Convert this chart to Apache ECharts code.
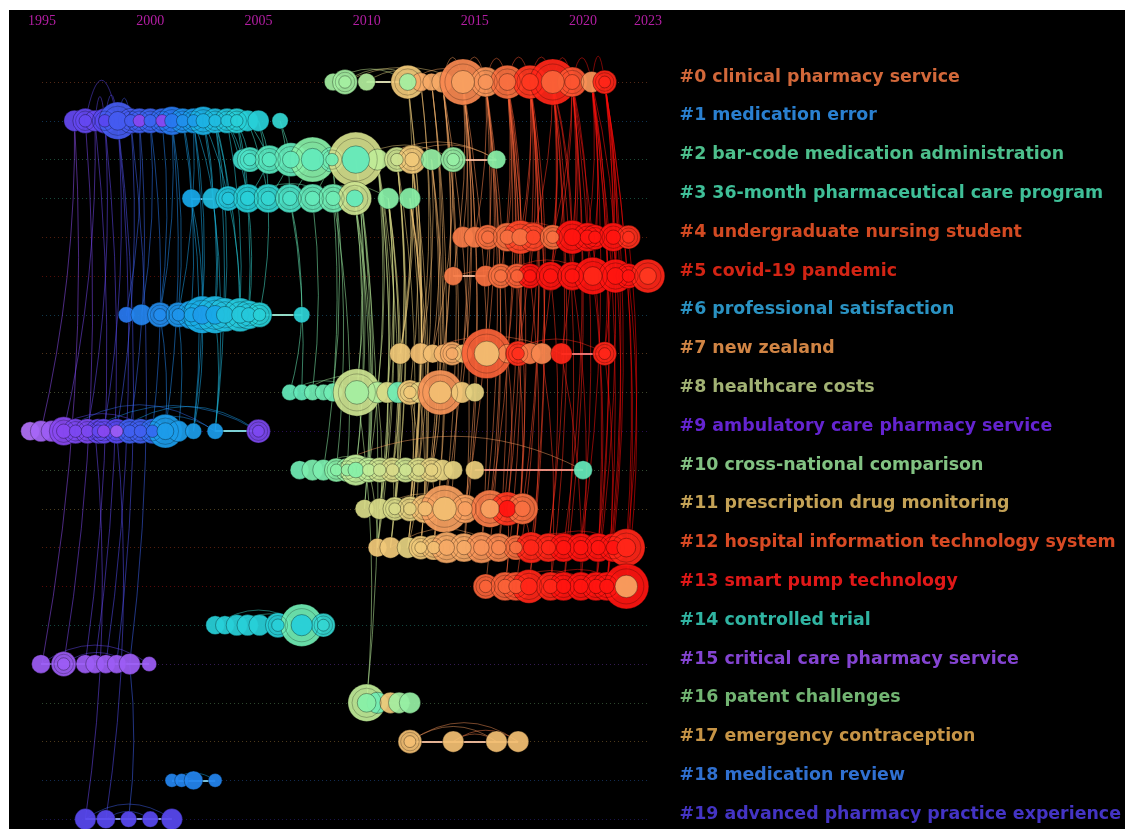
<!DOCTYPE html>
<html>
<head>
<meta charset="utf-8">
<script src="https://cdn.jsdelivr.net/npm/echarts@6/dist/echarts.min.js"></script>
<style>
html,body{margin:0;padding:0;background:#fff;}
#chart{position:absolute;left:9px;top:10px;width:1116px;height:819px;background:#000;}
</style>
</head>
<body>
<div id="chart"></div>
<script>
// year ticks shown on top
const tickYears = [1995, 2000, 2005, 2010, 2015, 2020, 2023];

const clusterNames = [
  'clinical pharmacy service', 'medication error', 'bar-code medication administration',
  '36-month pharmaceutical care program', 'undergraduate nursing student', 'covid-19 pandemic',
  'professional satisfaction', 'new zealand', 'healthcare costs', 'ambulatory care pharmacy service',
  'cross-national comparison', 'prescription drug monitoring', 'hospital information technology system',
  'smart pump technology', 'controlled trial', 'critical care pharmacy service', 'patent challenges',
  'emergency contraception', 'medication review', 'advanced pharmacy practice experience'
];
const clusterColors = [
  '#d2683a', '#2a80d0', '#4dbf8c', '#3fbf98', '#d24a22', '#d22414', '#2a92c2', '#d08444',
  '#a2b274', '#6424d0', '#82c282', '#c4a256', '#d84a24', '#e01818', '#30b4a2', '#8444d2',
  '#72b472', '#c69446', '#3070d0', '#4434c4'
];

// nodes per cluster: [year, size, colour year, core colour year]
const c0 = [[2008.45,14,2009],[2009,20,2009],[2010,14,2009.5],[2011.9,27,2012,2009],[2012.5,15,2013.5],[2013,14,2013.5],[2013.5,17,2013.5],[2014.45,37,2015,2014],[2015.5,24,2014.5],[2016.5,27,2016],[2017.55,27,2018],[2018.6,37,2019,2016.5],[2019.5,24,2017],[2020.4,17,2014.5],[2021,19,2019]];
const c1 = [[1996.5,17,1997.5],[1997,20,1997.5],[1997.45,17,1997.5,1996],[1997.9,20,1998],[1998.5,30,1998.8],[1999.1,20,1998.8],[1999.5,20,1999,1996],[2000,20,1999.2],[2000.55,20,1999.5,1996],[2001,23,2000],[2001.5,20,2001],[2002,20,2001.5],[2002.45,23,2002.5],[2003,20,2003],[2003.55,20,2003.5],[2004,20,2004],[2004.5,17,2004],[2005,17,2004],[2006,13,2004.5]];
const c2 = [[2004.3,17,2005],[2004.6,20,2005.5],[2005.5,23,2006],[2006.5,27,2006.5],[2007.5,36,2008,2006.5],[2008.4,20,2007],[2009.5,44,2010.8,2006.5],[2010.5,17,2010],[2011.4,20,2010.5],[2012.1,23,2012],[2013,17,2008.5],[2014,20,2008.5],[2016,15,2008]];
const c3 = [[2001.9,15,2002],[2002.9,17,2003],[2003.6,20,2003.5],[2004.5,23,2004],[2005.45,23,2004.5],[2006.45,23,2005.5],[2007.5,23,2006.5],[2008.45,23,2007],[2009.45,27,2010.5,2006.5],[2011,17,2008],[2012,17,2008]];
const c4 = [[2014.45,17,2015.5],[2015,17,2015.5],[2015.6,20,2016],[2016.5,23,2016],[2017.1,27,2017.5,2016],[2017.7,23,2017.5],[2018.6,20,2016],[2019.5,27,2020],[2020.2,23,2020],[2020.55,20,2020],[2021.4,23,2020],[2022.1,19,2018.5]];
const c5 = [[2014,15,2015.5],[2015.5,17,2016],[2016.2,20,2016],[2016.95,20,2016.5],[2017.55,20,2020],[2018.5,23,2020],[2019.5,23,2020],[2020.45,30,2020,2019],[2021.5,27,2020],[2022.1,20,2020],[2023,27,2019,2018]];
const c6 = [[1998.9,13,2000],[1999.6,17,2000.5],[2000.45,20,2000.8],[2001.3,20,2001.2],[2001.9,23,2001.8],[2002.4,30,2002.3,2001.5],[2003,30,2002.8,2002],[2003.45,27,2003.2],[2004.15,27,2003.6],[2004.55,23,2003.6],[2005.05,20,2004],[2007,13,2004.2]];
const c7 = [[2011.55,17,2012],[2012.5,17,2012.5],[2013.05,15,2012.5],[2013.55,15,2013],[2013.95,19,2013.5],[2014.45,15,2012.5],[2015.55,40,2016.5,2012.5],[2016.5,15,2015],[2017,20,2018.5],[2017.55,17,2015.5],[2018.1,17,2015],[2019,17,2019],[2021,19,2019]];
const c8 = [[2006.45,13,2006.5],[2007,13,2006.5],[2007.5,13,2007],[2008,13,2007],[2008.45,15,2007],[2009.55,38,2010.5,2009],[2010.5,17,2009.5],[2010.95,17,2011],[2011.45,17,2007],[2012,20,2012],[2012.45,17,2011.5],[2013.4,36,2014.5,2012.5],[2014.4,17,2012],[2015,15,2011.5]];
const c9 = [[1994.45,15,1994],[1994.95,17,1994.5],[1995.45,17,1995],[1996,23,1996],[1996.55,20,1996.5],[1997.1,20,1996.5],[1997.6,20,1997.5],[1997.85,20,1997.5,1996],[1998.45,20,1998,1995],[1999.05,20,1999],[1999.55,20,1999],[2000.1,20,1999.5],[2000.7,27,2001.5],[2001.3,17,2001.5],[2002,13,2001.5],[2003,13,2001.5],[2005,19,1996.5]];
const c10 = [[2006.9,15,2007],[2007.5,17,2007.5],[2008,17,2007.5],[2008.6,19,2008],[2009.1,19,2008.5],[2009.5,25,2010,2008],[2010.1,20,2010],[2010.6,20,2010.5],[2011.2,20,2011],[2011.8,20,2010.5],[2012.4,20,2011],[2013,20,2011.5],[2013.5,17,2011.5],[2014,15,2011.5],[2015,15,2011.8],[2020,15,2006.5]];
const c11 = [[2009.9,15,2011],[2010.6,17,2011],[2011.3,19,2011],[2012,20,2011.5],[2012.7,23,2012.5],[2013.6,38,2014,2012.5],[2014.55,23,2014],[2015.7,30,2015.5,2014],[2016.5,27,2018,2020],[2017.2,25,2016]];
const c12 = [[2010.5,15,2012],[2011.1,17,2012],[2011.9,17,2011.5],[2012.5,19,2012],[2013.1,20,2012.5],[2013.7,25,2013.5],[2014.5,23,2013.5],[2015.3,25,2014.5],[2016.1,23,2015],[2016.9,20,2016],[2017.6,25,2019],[2018.4,23,2019],[2019.1,23,2020],[2019.9,23,2020],[2020.7,23,2020],[2021.4,23,2020],[2022,30,2019]];
const c13 = [[2015.5,20,2016.5],[2016.4,23,2016.5],[2016.9,23,2017],[2017.5,27,2019],[2018.5,23,2019],[2019.1,23,2020],[2019.9,23,2020],[2020.6,23,2020],[2021.1,23,2020],[2022,36,2020,2014]];
const c14 = [[2003,15,2004],[2003.45,15,2004],[2004,17,2004],[2004.5,17,2004],[2005.05,17,2004],[2005.9,20,2004],[2007,34,2007,2004],[2008,19,2004.5]];
const c15 = [[1994.95,15,1995],[1996,20,1995],[1997,15,1995],[1997.45,15,1995],[1997.95,15,1995],[1998.45,15,1995],[1999.05,17,1995],[1999.95,12,1995]];
const c16 = [[2010,30,2010,2008],[2010.5,17,2007],[2011.1,17,2012],[2011.5,17,2009],[2012,17,2008.5]];
const c17 = [[2012,19,2012.5],[2014,17,2012.5],[2016,17,2012.5],[2017,17,2012.5]];
const c18 = [[2001,11,2000.5],[2001.45,11,2000.5],[2002,15,2000.5],[2003,11,2000.5]];
const c19 = [[1997,17,1998],[1997.95,15,1998],[1999,13,1998],[2000,13,1998],[2001,17,1998]];

// links between clusters: [yearA, clusterA, yearB, clusterB]
const crossLinks = [
  [1996.5,1,1995,15],[1997,1,1996,15],[1997.45,1,1997,15],[1997.9,1,1997.45,15],[1998.5,1,1997.95,15],[1998.5,1,1998.45,15],[1999.1,1,1999.05,15],
  [1996.5,1,1994.95,9],[1997.45,1,1996,9],[1997.9,1,1997.1,9],[1998.5,1,1997.85,9],[1999.1,1,1998.45,9],[1999.5,1,1999.05,9],
  [1997.45,9,1997,19],[1998.45,9,1997.95,19],[1999.05,15,1999,19],
  [1999.5,1,1998.9,6],[2000,1,1999.6,6],[2000.55,1,2000.45,6],[2001,1,2001.3,6],[2001.5,1,2001.9,6],[2002,1,2002.4,6],[2002.45,1,2003,6],[2003,1,2003.45,6],[2003.55,1,2004.15,6],
  [2003,1,2004.15,6],[2004,1,2004.55,6],[2002,1,2001.3,6],[2001,1,2000.45,6],
  [2000,1,2000.1,9],[2001,1,2000.7,9],[2002,1,2002,9],[2003,1,2003,9],
  [2001.5,1,2001.9,3],[2002,1,2002.9,3],[2002.45,1,2003.6,3],[2003,1,2003.6,3],[2003.55,1,2004.5,3],[2004,1,2004.5,3],[2004.5,1,2005.45,3],[2005,1,2005.45,3],[2006,1,2006.45,3],[2002.45,1,2002.9,3],
  [2003.55,1,2004.3,2],[2004,1,2004.6,2],[2004.5,1,2005.5,2],[2005,1,2005.5,2],[2006,1,2006.5,2],
  [2001.9,3,2002.4,6],[2002.9,3,2003,6],[2003.6,3,2004.15,6],[2004.5,3,2004.55,6],[2005.45,3,2005.05,6],[2006.45,3,2007,6],
  [2001.9,3,2002,9],[2002.9,3,2003,9],[2002.4,6,2002,9],[2003,6,2003,9],[2001.3,6,2001.3,9],[2000.45,6,2000.7,9],
  [2005.5,2,2004.5,3],[2006.5,2,2005.45,3],[2007.5,2,2006.45,3],[2008.4,2,2007.5,3],
  [2007,6,2006.45,8],[2006.45,3,2007,8],[2007.5,3,2007.5,8],[2008.4,2,2008.45,8],[2008.4,2,2008.6,10],[2008.45,3,2008,10],[2008.45,3,2009.1,10],
  [2009.5,2,2009.55,8],[2009.5,2,2009.5,10],[2009.5,2,2009.9,11],[2009.5,2,2010,16],[2010.5,2,2010.5,8],[2010.5,2,2010.1,10],[2010.5,2,2010.6,11],[2010.5,2,2010.5,12],
  [2010.5,2,2011.3,11],[2011.4,2,2012,11],[2012.1,2,2012.5,12],[2013,2,2013.1,12],[2009.5,2,2010.1,10],[2010.5,2,2010.95,8],[2011.4,2,2011.45,8],[2012.1,2,2012,8],[2013,2,2013,10],
  [2011.4,2,2011.3,11],[2011.4,2,2011.2,10],[2011.4,2,2011.1,12],[2012.1,2,2012,11],[2012.1,2,2011.55,7],[2012.1,2,2011.9,12],[2013,2,2012.5,7],[2013,2,2012.7,11],[2014,2,2013.05,7],
  [2009.45,3,2009.5,10],[2009.45,3,2009.9,11],[2009.45,3,2009.55,8],[2011,3,2011.1,12],[2011,3,2010.5,12],[2011,3,2010.95,8],[2012,3,2011.9,12],[2012,3,2012.5,12],[2012,3,2012.45,8],
  [2009.45,3,2010.1,10],[2011,3,2011.2,10],[2012,3,2012.4,10],[2011,3,2011.3,11],[2012,3,2012.7,11],[2012,3,2011.55,7],[2011,3,2010.6,11],
  [2009.55,8,2010,16],[2010.5,8,2010.5,12],[2010.95,8,2010.6,11],[2011.45,8,2011.2,10],[2012,8,2012.4,10],[2012,8,2012,11],[2012.45,8,2012.5,12],[2013.4,8,2013,10],
  [2010.1,10,2010.5,12],[2011.2,10,2011.1,12],[2012.4,10,2011.9,12],[2013,10,2013.1,12],
  [2011.9,0,2011.55,7],[2011.9,0,2012,11],[2011.9,0,2011.9,12],[2012.5,0,2012.5,7],[2012.5,0,2012.4,10],[2013,0,2013.05,7],[2013,0,2013,10],[2013.5,0,2013.55,7],[2013.5,0,2013.6,11],[2013.5,0,2013.7,12],[2013.5,0,2013.4,8],
  [2013,0,2013.1,12],[2013.5,0,2014.5,12],[2014.45,0,2015.3,12],[2014.45,0,2013.6,11],[2015.5,0,2014.55,11],[2016.5,0,2015.7,11],
  [2014.45,0,2014.45,7],[2014.45,0,2014.55,11],[2014.45,0,2014.5,12],[2014.45,0,2014.4,8],[2014.45,0,2014.45,4],[2014.45,0,2014,5],
  [2015.5,0,2015.55,7],[2015.5,0,2015.7,11],[2015.5,0,2015.3,12],[2015.5,0,2015.5,13],[2015.5,0,2015,4],[2015.5,0,2015.5,5],[2015.5,0,2016.1,12],
  [2016.5,0,2016.5,7],[2016.5,0,2016.5,11],[2016.5,0,2016.1,12],[2016.5,0,2016.4,13],[2016.5,0,2016.5,4],[2016.5,0,2016.2,5],[2016.5,0,2017.1,4],[2016.5,0,2017,7],[2016.5,0,2016.9,12],
  [2017.55,0,2017.1,4],[2017.55,0,2017.55,5],[2017.55,0,2017.55,7],[2017.55,0,2017.6,12],[2017.55,0,2017.5,13],
  [2017.55,0,2018.1,7],[2017.55,0,2017,7],[2017.55,0,2016.95,5],[2017.55,0,2016.9,13],[2017.55,0,2017.2,11],
  [2018.6,0,2018.6,4],[2018.6,0,2018.5,5],[2018.6,0,2018.1,7],[2018.6,0,2018.4,12],[2018.6,0,2018.5,13],
  [2018.6,0,2019.5,4],[2018.6,0,2017.7,4],[2018.6,0,2019.5,5],[2018.6,0,2019.1,13],
  [2019.5,0,2019.5,4],[2019.5,0,2019.5,5],[2019.5,0,2019,7],[2019.5,0,2019.1,12],[2019.5,0,2019.1,13],
  [2019.5,0,2020.2,4],[2019.5,0,2018.6,4],[2019.5,0,2018.5,5],[2019.5,0,2019.9,12],[2019.5,0,2020.6,13],
  [2020.4,0,2020.2,4],[2020.4,0,2020.45,5],[2020.4,0,2019.9,12],[2020.4,0,2020.6,13],[2020.4,0,2021,7],
  [2020.4,0,2020.55,4],[2020.4,0,2021.5,5],[2020.4,0,2020.7,12],[2020.4,0,2021.1,13],
  [2021,0,2021.4,4],[2021,0,2021.5,5],[2021,0,2021,7],[2021,0,2021.4,12],[2021,0,2021.1,13],[2021,0,2022,13],[2021,0,2022,12],[2021,0,2020.6,13],
  [2020.2,4,2020.7,12],[2021.4,4,2021.1,13],[2022.1,4,2022,12],[2019.5,5,2019.9,13],[2022.1,5,2022,13],[2018.5,5,2018.4,12],[2017.55,5,2017.5,13],[2016.95,5,2016.9,12],
  [2016.5,7,2016.5,11],[2017,7,2016.9,12],[2018.1,7,2018.5,13],[2019,7,2019.9,13],[2021,7,2021.1,13],[2016.5,11,2016.4,13],[2017.2,11,2017.6,12]
];

// arcs inside a cluster: [yearA, cluster, yearB, cluster, curveness]
const arcLinks = [
  [2008.45,0,2011.9,0],[2009,0,2012.5,0],[2010,0,2013,0],[2009,0,2014.45,0,0.25],[2011.9,0,2015.5,0],
  [2013.5,0,2014.45,0,2.4],[2014.45,0,2015.5,0,2.2],[2015.5,0,2016.5,0,2.2],[2016.5,0,2017.55,0,2.2],[2017.55,0,2018.6,0,2.2],[2018.6,0,2019.5,0,2.5],[2019.5,0,2020.4,0,2.5],[2020.4,0,2021,0,4],
  [1996.5,1,1999.1,1],[1997.9,1,2000,1],[2000,1,2003,1],
  [1997.45,1,1997.9,1,5],[1997.9,1,1998.5,1,4],[1997,1,1998.5,1,2.5],[1998.5,1,1999.1,1,3.5],
  [2005.5,2,2008.4,2],[2009.5,2,2014,2,0.3],[2010.5,2,2016,2,0.3],[2011.4,2,2016,2,0.3],
  [2004.5,3,2008.45,3],[2007.5,3,2011,3],
  [2015.6,4,2019.5,4],[2014,5,2017.55,5,0.15],[2016.2,5,2020.45,5],
  [2012.5,7,2019,7,0.25],[2016.5,7,2021,7,0.3],
  [2006.45,8,2009.55,8],[2007,8,2011.45,8],
  [1996,9,2003,9],[1997.1,9,2005,9,0.3],[1998.45,9,2005,9],[1999.05,9,2003,9],[1995.45,9,2000.1,9],
  [2008,10,2020,10,0.26],[2007.5,10,2011.2,10],
  [2010.6,11,2014.55,11],
  [2011.1,12,2016.1,12],[2012.5,12,2015.3,12],[2017.6,12,2022,12],[2016.9,12,2020.7,12],
  [2016.4,13,2020.6,13],[2017.5,13,2022,13],
  [2003,14,2007,14],[2003.45,14,2005.9,14],[2004,14,2007,14],
  [1994.95,15,1999.95,15],[1996,15,1999.05,15],[1997,15,1998.45,15],
  [2010,16,2012,16],
  [2012,17,2016,17],[2012,17,2017,17],[2014,17,2017,17],[2014,17,2016,17],
  [2001,18,2003,18],[2001.45,18,2002,18],
  [1997,19,2001,19],[1997.95,19,2000,19]
];

// bright straight links along a cluster
const straightLinks = [
  [2010,0,2011.9,0],[2014,2,2016,2],[2001.9,3,2002.9,3],[2014,5,2015.5,5],[2005.05,6,2007,6],[2019,7,2021,7],
  [2003,9,2005,9],[2015,10,2020,10],[1994.95,15,1999.95,15],[2010,16,2012,16],[2012,17,2017,17],[2001,18,2003,18],[1997,19,2001,19]
];

const clusters = [c0,c1,c2,c3,c4,c5,c6,c7,c8,c9,c10,c11,c12,c13,c14,c15,c16,c17,c18,c19];

// colour ramp by year
const ramp = [
  [1994,'#b070f8'],[1996,'#8848f0'],[1998,'#5848f0'],[2000,'#2878f0'],[2002,'#18a8e8'],
  [2004,'#28d0d8'],[2006,'#58e8c0'],[2008,'#88f0a8'],[2010,'#c0ec98'],[2012,'#f0c878'],
  [2014,'#f8a060'],[2016,'#f87040'],[2018,'#ff3820'],[2020,'#ff1410'],[2023,'#ff0000']
];
function toRgb(h){ return [1,3,5].map(i => parseInt(h.substr(i,2),16)); }
function yearColor(y, light){
  let a = ramp[0], b = ramp[ramp.length-1];
  for (let i=0;i<ramp.length-1;i++){
    if (y>=ramp[i][0] && y<=ramp[i+1][0]) { a = ramp[i]; b = ramp[i+1]; break; }
  }
  if (y < ramp[0][0]) b = a;
  let t = b[0]===a[0] ? 0 : Math.min(1, Math.max(0,(y-a[0])/(b[0]-a[0])));
  let ca = toRgb(a[1]), cb = toRgb(b[1]);
  let c = ca.map((v,i) => v + (cb[i]-v)*t);
  if (light) c = c.map(v => v + (255-v)*light);
  return 'rgb(' + c.map(Math.round).join(',') + ')';
}

const sizeScale = 1.25;
const nodeData = [], ringData = [], coreData = [];
clusters.forEach((nodes, row) => {
  nodes.forEach(n => {
    const yr = n[0], d = n[1] * sizeScale, cy = n[2] === undefined ? yr : n[2], core = n[3] === undefined ? cy : n[3];
    nodeData.push({ value: [yr, row], symbolSize: d, itemStyle: { color: yearColor(cy) } });
    if (d >= 22) {
      ringData.push({ value: [yr, row], symbolSize: d * 0.78 });
      coreData.push({ value: [yr, row], symbolSize: d * 0.5, itemStyle: { color: yearColor(core) } });
    }
  });
});

function toLines(list, opts){
  return list.map(l => {
    const ls = { color: yearColor((l[0]+l[2])/2, opts.light || 0) };
    if (l[4] !== undefined) ls.curveness = l[4];
    return { coords: [[l[0], l[1]], [l[2], l[3]]], lineStyle: ls };
  });
}

const rowLines = clusterNames.map((n, i) => ({
  coords: [[1995, i], [2023, i]],
  lineStyle: { color: clusterColors[i] }
}));

const chart = echarts.init(document.getElementById('chart'));
chart.setOption({
  backgroundColor: '#000',
  animation: false,
  grid: { left: 11.4, width: 649.2, top: 33.2, height: 785.7 },
  xAxis: {
    type: 'value', position: 'top', min: 1994, max: 2024, interval: 1,
    axisLine: { show: false }, axisTick: { show: false }, splitLine: { show: false },
    axisLabel: {
      interval: 0, margin: 15, color: '#b41ea4', fontFamily: 'Liberation Serif', fontSize: 14,
      formatter: v => tickYears.indexOf(v) >= 0 ? String(v) : ''
    }
  },
  yAxis: [{
    type: 'value', inverse: true, min: -1, max: 19.25, interval: 1,
    axisLine: { show: false }, axisTick: { show: false }, splitLine: { show: false }, axisLabel: { show: false }
  }, {
    type: 'value', inverse: true, min: -1, max: 19.25, interval: 1, position: 'right',
    axisLine: { show: false }, axisTick: { show: false }, splitLine: { show: false },
    axisLabel: {
      margin: 10, fontFamily: 'DejaVu Sans', fontWeight: 'bold', fontSize: 17.4,
      verticalAlign: 'bottom', lineHeight: 10,
      formatter: v => (v >= 0 && Number.isInteger(v) && v < clusterNames.length) ? '#' + v + ' ' + clusterNames[v] : '',
      color: (v) => clusterColors[Number(v)] || '#000'
    }
  }],
  series: [
    {
      type: 'lines', coordinateSystem: 'cartesian2d', silent: true, clip: false,
      lineStyle: { width: 1, type: [1, 3], opacity: 0.4 },
      data: rowLines
    },
    {
      type: 'lines', coordinateSystem: 'cartesian2d', silent: true, clip: false,
      lineStyle: { width: 0.9, opacity: 0.6, curveness: 0.06 },
      data: toLines(crossLinks, {})
    },
    {
      type: 'lines', coordinateSystem: 'cartesian2d', silent: true, clip: false,
      lineStyle: { width: 0.8, opacity: 0.6, curveness: 0.35 },
      data: toLines(arcLinks, {})
    },
    {
      type: 'lines', coordinateSystem: 'cartesian2d', silent: true, clip: false,
      lineStyle: { width: 2, opacity: 0.9, curveness: 0 },
      data: toLines(straightLinks, { light: 0.45 })
    },
    {
      type: 'scatter', silent: true, clip: false,
      itemStyle: { opacity: 0.93, borderColor: 'rgba(0,0,0,0.45)', borderWidth: 0.8 },
      data: nodeData
    },
    {
      type: 'scatter', silent: true, clip: false,
      itemStyle: { color: 'rgba(0,0,0,0)', borderColor: 'rgba(0,0,0,0.3)', borderWidth: 1 },
      data: ringData
    },
    {
      type: 'scatter', silent: true, clip: false,
      itemStyle: { opacity: 0.95, borderColor: 'rgba(0,0,0,0.35)', borderWidth: 1 },
      data: coreData
    }
  ]
});
</script>
</body>
</html>
